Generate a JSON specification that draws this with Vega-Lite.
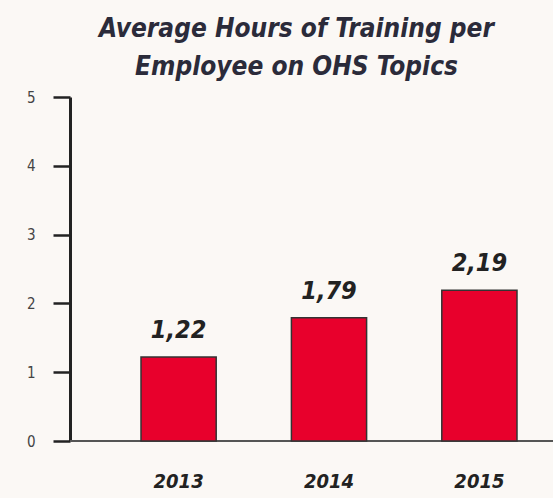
{
  "$schema": "https://vega.github.io/schema/vega-lite/v6.json",
  "autosize": "none",
  "width": 483,
  "height": 344,
  "padding": {"left": 70, "top": 97, "right": 0, "bottom": 57},
  "background": "#fbf8f5",
  "title": {
    "text": ["Average Hours of Training per", "Employee on OHS Topics"],
    "font": "DejaVu Sans Condensed",
    "fontSize": 26,
    "fontWeight": "bold",
    "fontStyle": "italic",
    "color": "#2b2b3a",
    "lineHeight": 38,
    "anchor": "middle",
    "frame": "group",
    "dx": -15,
    "offset": 10
  },
  "config": {"view": {"stroke": null}},
  "data": {
    "values": [
      {"year": "2013", "value": 1.22, "label": "1,22"},
      {"year": "2014", "value": 1.79, "label": "1,79"},
      {"year": "2015", "value": 2.19, "label": "2,19"}
    ]
  },
  "layer": [
    {
      "mark": {"type": "rule", "color": "#555555", "strokeWidth": 2},
      "encoding": {"y": {"datum": 0, "type": "quantitative", "scale": {"domain": [0, 5]}}}
    },
    {
      "mark": {"type": "bar", "color": "#e8002c", "stroke": "#333333", "strokeWidth": 1.5},
      "encoding": {
        "x": {
          "field": "year",
          "type": "nominal",
          "scale": {"range": [71, 447], "paddingInner": 0.5, "paddingOuter": 0},
          "axis": {
            "title": null,
            "domain": false,
            "ticks": false,
            "labelAngle": 0,
            "labelPadding": 30,
            "labelFont": "DejaVu Sans Condensed",
            "labelFontSize": 20,
            "labelFontStyle": "italic",
            "labelFontWeight": "bold",
            "labelColor": "#222222"
          }
        },
        "y": {
          "field": "value",
          "type": "quantitative",
          "scale": {"domain": [0, 5]},
          "axis": {
            "title": null,
            "values": [0, 1, 2, 3, 4, 5],
            "format": "d",
            "grid": false,
            "domainColor": "#222222",
            "domainWidth": 3,
            "tickColor": "#222222",
            "tickWidth": 2.5,
            "tickSize": 17,
            "labelPadding": 18,
            "labelFont": "DejaVu Sans Condensed",
            "labelFontSize": 15,
            "labelColor": "#444444"
          }
        }
      }
    },
    {
      "mark": {
        "type": "text",
        "baseline": "bottom",
        "dy": -14,
        "font": "DejaVu Sans Condensed",
        "fontSize": 25,
        "fontStyle": "italic",
        "fontWeight": "bold",
        "color": "#222222"
      },
      "encoding": {
        "x": {"field": "year", "type": "nominal"},
        "y": {"field": "value", "type": "quantitative"},
        "text": {"field": "label"}
      }
    }
  ]
}
